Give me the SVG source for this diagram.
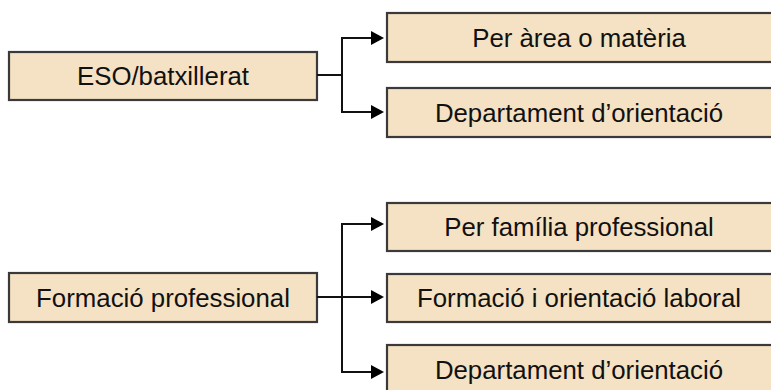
<svg xmlns="http://www.w3.org/2000/svg" width="771" height="390" viewBox="0 0 771 390">
<defs>
<style>
.box{fill:#F5E1C3;stroke:#3a3a3a;stroke-width:2.2}
.lbl{font-family:"Liberation Sans",Arial,sans-serif;font-size:25.8px;fill:#111;text-anchor:middle}
.conn{fill:none;stroke:#111;stroke-width:2}
</style>
<marker id="arr" markerUnits="userSpaceOnUse" markerWidth="14" markerHeight="15" refX="0" refY="7.5" orient="auto">
<path d="M0,0.5 L13,7.5 L0,14.5 Z" fill="#000"/>
</marker>
</defs>
<g id="n-eso"><rect class="box" x="9" y="52" width="308" height="48"/><text class="lbl" x="163" y="85">ESO/batxillerat</text></g>
<g id="n-area"><rect class="box" x="387" y="13" width="386" height="49"/><text class="lbl" x="579" y="46.5">Per àrea o matèria</text></g>
<g id="n-dep1"><rect class="box" x="387" y="88" width="386" height="49"/><text class="lbl" x="579" y="121.5">Departament d’orientació</text></g>
<g id="n-fp"><rect class="box" x="9" y="273" width="308" height="49"/><text class="lbl" x="163" y="306.5">Formació professional</text></g>
<g id="n-fam"><rect class="box" x="387" y="203" width="386" height="48"/><text class="lbl" x="579" y="236">Per família professional</text></g>
<g id="n-fol"><rect class="box" x="387" y="274" width="386" height="48"/><text class="lbl" x="579" y="307">Formació i orientació laboral</text></g>
<g id="n-dep2"><rect class="box" x="387" y="345" width="386" height="49"/><text class="lbl" x="579" y="378.5">Departament d’orientació</text></g>
<g id="connectors">
<path class="conn" d="M317,75 H342"/>
<path class="conn" d="M342,112 V38 H371" marker-end="url(#arr)"/>
<path class="conn" d="M342,75 V112 H371" marker-end="url(#arr)"/>
<path class="conn" d="M317,297 H371" marker-end="url(#arr)"/>
<path class="conn" d="M342,372 V224 H371" marker-end="url(#arr)"/>
<path class="conn" d="M342,297 V372 H371" marker-end="url(#arr)"/>
</g>
</svg>
